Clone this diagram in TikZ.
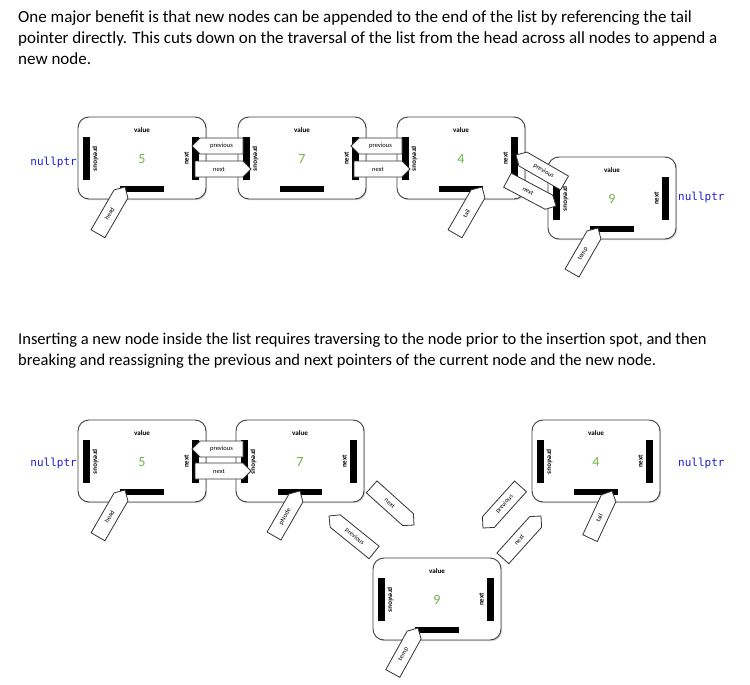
\documentclass[tikz,border=0pt]{standalone}
\usepackage{fontspec}
\setmainfont{Carlito}
\newfontfamily\monof{DejaVu Sans Mono}
\usetikzlibrary{shadows}
\definecolor{nullblue}{RGB}{30,30,210}
\definecolor{numgreen}{RGB}{110,180,70}
\tikzset{
  boxst/.style={draw=black!75, line width=0.9pt, fill=white, rounded corners=11pt, minimum width=128pt, minimum height=82pt, inner sep=0pt,
    drop shadow={opacity=0.35, shadow xshift=1.2pt, shadow yshift=-1.2pt}},
  valst/.style={font=\fontsize{7}{8}\selectfont\bfseries, inner sep=0pt},
  lblst/.style={font=\fontsize{7}{8}\selectfont\bfseries, inner sep=0pt},
  numst/.style={font=\fontsize{14}{16}\selectfont, text=numgreen, inner sep=0pt},
  tagst/.style={draw=black!80, line width=0.8pt, fill=white},
  tagtxt/.style={font=\fontsize{6.5}{7}\selectfont, inner sep=0pt},
  parast/.style={anchor=west, inner sep=0pt, font=\fontsize{17}{20}\selectfont},
  parbst/.style={anchor=west, inner sep=0pt, font=\fontsize{16.5}{20}\selectfont},
  nullst/.style={inner sep=0pt, font=\monof\fontsize{11}{13}\selectfont, text=nullblue}
}
\newcommand\lbox[4]{%
\begin{scope}[shift={(#2,#3)}]
\node[boxst] (#1) at (64,41) {};
\node[valst] (#1v) at (64,13) {value};
\fill (5,20) rectangle (12,63);
\node[lblst, rotate=-90] (#1p) at (17.5,41.5) {previous};
\fill (114,20) rectangle (121,63);
\node[lblst, rotate=90] (#1n) at (108.5,41.5) {next};
\node[numst] (#1d) at (64,42) {#4};
\fill (42,69) rectangle (86,75);
\end{scope}}
\newcommand\ptag[7]{%
\begin{scope}[shift={(#2,#3)},rotate=#4]
\draw[tagst] (0,0) -- (8,8) -- (#5,8) -- (#5,-8) -- (8,-8) -- cycle;
\node[tagtxt,rotate=#7] (#1) at ({(#5)/2+4},0) {#6};
\end{scope}}
\begin{document}
\begin{tikzpicture}[x=1pt,y=-1pt]
\useasboundingbox (0,0) rectangle (750,685);
\fill[white] (0,0) rectangle (750,685);
\node[parast] (t1) at (18,18) {One major benefit is that new nodes can be appended to the end of the list by referencing the tail};
\node[parast] (t2) at (18,39) {pointer directly. This cuts down on the traversal of the list from the head across all nodes to append a};
\node[parast] (t3) at (18,59) {new node.};
\node[parbst] (t4) at (18,340) {Inserting a new node inside the list requires traversing to the node prior to the insertion spot, and then};
\node[parbst] (t5) at (18,361) {breaking and reassigning the previous and next pointers of the current node and the new node.};
% top diagram
\lbox{a1}{78}{117}{5}
\lbox{a2}{238}{117}{7}
\lbox{a3}{397}{117}{4}
\lbox{a4}{548}{157}{9}
\node[nullst, anchor=east] (n1) at (77,162) {nullptr};
\node[nullst, anchor=west] (n2) at (678,197) {nullptr};
\ptag{g1}{125}{187}{240}{54}{head}{60}
\ptag{g2}{192}{146}{0}{51}{previous}{0}
\ptag{g3}{251}{169}{180}{56}{next}{0}
\ptag{g4}{351}{146}{0}{51}{previous}{0}
\ptag{g5}{410}{169}{180}{56}{next}{0}
\ptag{g6}{516}{155}{-30}{56}{previous}{-30}
\ptag{g7}{556}{206}{152}{55}{next}{-28}
\ptag{g8}{482}{187}{240}{54}{tail}{60}
\ptag{g9}{598}{228}{240}{52}{temp}{60}
% bottom diagram
\lbox{b1}{78}{420}{5}
\lbox{b2}{236}{420}{7}
\lbox{b3}{532}{420}{4}
\lbox{b4}{373}{558}{9}
\node[nullst, anchor=east] (n3) at (77,463) {nullptr};
\node[nullst, anchor=west] (n4) at (678,463) {nullptr};
\ptag{h1}{125}{490}{240}{54}{head}{60}
\ptag{h2}{192}{449}{0}{51}{previous}{0}
\ptag{h3}{251}{471}{180}{56}{next}{0}
\ptag{h4}{300}{491}{240}{52}{pNode}{60}
\ptag{h5}{414}{525}{138}{57}{next}{-42}
\ptag{h6}{329}{516}{-39}{58}{previous}{-39}
\ptag{h7}{483}{528}{48}{56}{previous}{48}
\ptag{h8}{541}{516}{228}{57}{next}{48}
\ptag{h9}{612}{491}{245}{52}{tail}{65}
\ptag{h10}{418}{628}{241}{52}{temp}{61}
\end{tikzpicture}
\end{document}
